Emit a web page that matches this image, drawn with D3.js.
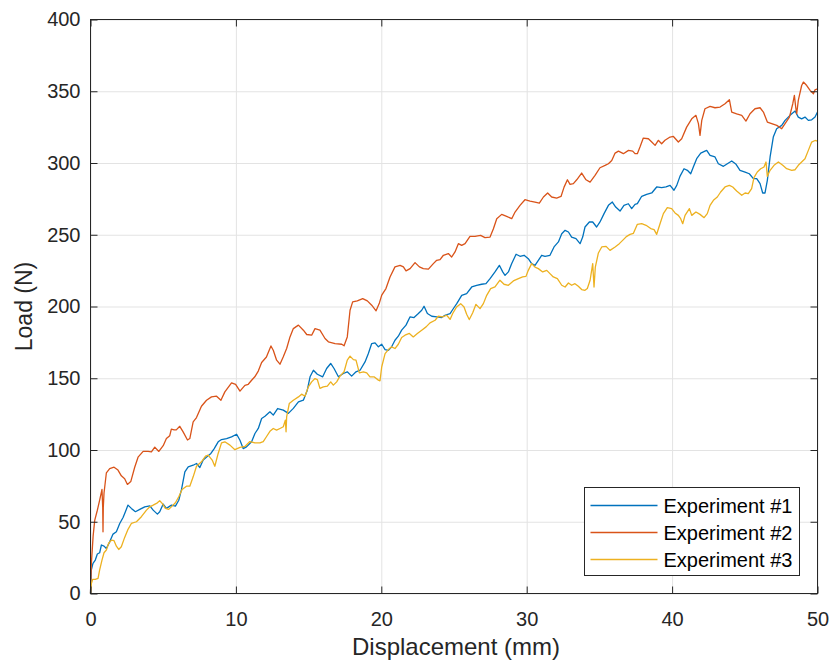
<!DOCTYPE html>
<html>
<head>
<meta charset="utf-8">
<script src="https://cdn.jsdelivr.net/npm/d3@7"></script>
<style>
  body { margin: 0; background: #fff; }
  svg { display: block; font-family: "Liberation Sans", Arial, Helvetica, sans-serif; }
</style>
</head>
<body>
<svg id="chart" width="832" height="663"></svg>
<script>
// Load vs displacement, three experiments [displacement mm, load N]
const exp1 = [[0,0],[0.02,7],[0.06,16.4],[0.17,21],[0.33,23.3],[0.47,27.5],[0.63,28.4],[0.75,33.8],[0.93,33],[1.09,31.4],[1.32,36],[1.55,41.4],[1.78,43],[2.01,48.8],[2.24,53],[2.4,57],[2.58,61.6],[2.81,59.3],[3.09,57],[3.39,58.6],[3.73,60.4],[4.08,61.1],[4.31,58.1],[4.6,55.3],[4.76,57],[5.0,62.3],[5.22,59.3],[5.57,61.6],[5.84,60.9],[6.07,65],[6.26,72.5],[6.49,84.8],[6.72,88.3],[7.06,89.4],[7.29,90.6],[7.52,87.8],[7.75,93],[8.05,95.7],[8.28,97.6],[8.51,101],[8.78,105.7],[9.01,107.3],[9.36,108],[9.7,109.2],[10.05,111],[10.28,106.8],[10.5,101],[10.73,102.2],[11.08,105.7],[11.31,111.5],[11.54,115],[11.77,122],[12.0,123.5],[12.34,126.6],[12.57,124.3],[12.87,128.9],[13.26,127.8],[13.61,125.5],[13.95,129],[14.3,133.6],[14.64,134.7],[14.91,141.7],[15.1,151],[15.33,155.6],[15.6,152.8],[15.97,151],[16.24,156.8],[16.52,160.3],[16.75,156.8],[17.05,151],[17.39,153.3],[17.66,154.5],[17.96,151.5],[18.26,154.5],[18.54,155.6],[18.88,161.4],[19.11,167.2],[19.34,174.2],[19.57,174.7],[19.8,171.9],[20.03,173.7],[20.26,170],[20.49,169.5],[20.71,171.9],[20.94,176.5],[21.17,179.3],[21.4,183.5],[21.7,187],[21.98,192.8],[22.25,192.3],[22.55,195.1],[22.78,197.4],[22.94,200.2],[23.17,195.1],[23.47,193.2],[23.81,192.8],[24.15,192.3],[24.38,193.9],[24.73,195.1],[24.96,198.6],[25.19,202],[25.53,207.8],[25.87,209],[26.22,213.6],[26.56,214.8],[26.9,215.5],[27.2,215.9],[27.48,219.4],[27.82,224.1],[28.12,228.7],[28.35,224.1],[28.51,221.7],[28.74,224.1],[28.97,229.9],[29.27,236.4],[29.54,235],[29.82,235.7],[30.11,233.3],[30.34,229.9],[30.57,228.7],[30.8,232.2],[31.03,235.7],[31.26,235],[31.6,235.7],[31.88,241.5],[32.18,245],[32.41,250.7],[32.64,253.1],[32.87,251.9],[33.09,248.4],[33.39,247.3],[33.67,243.8],[33.85,248.4],[34.01,255.4],[34.31,258.9],[34.54,258.9],[34.81,255.4],[35.04,258.9],[35.32,264.7],[35.62,270.5],[35.89,272.8],[36.12,269.3],[36.42,266.5],[36.69,270.5],[36.99,271.6],[37.22,268.2],[37.45,271.2],[37.61,271.7],[37.91,276.8],[38.25,278.2],[38.6,279.1],[38.94,283.3],[39.28,282.8],[39.58,283.3],[39.86,284.4],[40.13,281],[40.32,284.4],[40.54,290.7],[40.82,296],[41.05,294.9],[41.28,292.5],[41.46,297.2],[41.69,303],[41.97,306.9],[42.26,308.3],[42.38,308.8],[42.61,305.3],[42.95,304.2],[43.18,299.5],[43.53,297.7],[43.8,299.5],[44.1,301.4],[44.4,299.1],[44.67,294.9],[45.02,293.7],[45.31,292.5],[45.59,289.1],[45.82,289.1],[46.05,285.6],[46.23,279.1],[46.39,279.1],[46.55,287.9],[46.74,304.2],[46.96,318.1],[47.19,323.9],[47.54,326.2],[47.77,329.7],[48.11,333.2],[48.46,336.2],[48.68,332],[48.91,330.8],[49.14,332],[49.37,329.7],[49.6,330.1],[49.83,332],[50,335.5]];

const exp2 = [[0,0],[0.06,21],[0.18,40],[0.29,51],[0.47,58],[0.63,65],[0.79,72.5],[0.84,60],[0.86,43],[0.88,60],[0.93,70],[1.09,84],[1.32,87],[1.62,88],[1.89,86],[2.12,82],[2.35,80],[2.54,76],[2.77,78],[3.04,88],[3.27,95],[3.62,99],[3.96,99],[4.19,98.7],[4.42,102],[4.7,99],[5.0,103],[5.22,108],[5.45,110],[5.56,114.5],[5.75,114],[5.9,114],[6.14,116.5],[6.37,112.6],[6.67,107],[6.83,108],[7.06,119.6],[7.29,122.6],[7.63,130.5],[7.98,134.7],[8.32,137],[8.67,137.5],[8.97,134.7],[9.24,140.5],[9.7,146.8],[9.98,145.7],[10.28,141],[10.62,145],[10.85,145.8],[11.08,148.6],[11.3,151],[11.54,155],[11.77,161],[12.1,164.8],[12.41,172.5],[12.57,169.5],[12.8,162.6],[13.03,159.8],[13.26,165],[13.49,170.7],[13.72,178.8],[13.95,184.6],[14.3,187],[14.64,183.5],[14.87,180.5],[15.21,180],[15.44,184.6],[15.78,183.5],[16.13,177.7],[16.36,175.4],[16.82,174.2],[17.28,173.7],[17.44,172.6],[17.66,178.8],[17.85,197.4],[18.03,203.2],[18.35,203.9],[18.72,205.5],[19.04,203.9],[19.34,200.9],[19.64,197],[19.87,202.5],[20.03,207.9],[20.32,212.5],[20.6,220.6],[20.94,227.6],[21.29,228.7],[21.52,227.6],[21.7,224.8],[21.98,226.4],[22.32,230.6],[22.62,227.6],[22.89,226.4],[23.24,226],[23.58,229.9],[23.81,232.2],[24.04,232.7],[24.27,235.7],[24.61,236.9],[24.84,234.5],[25.07,238],[25.3,243.8],[25.53,242.6],[25.76,243.8],[26.1,248.9],[26.44,248.9],[26.83,249.6],[27.13,248],[27.48,248.4],[27.71,254.2],[27.94,261.2],[28.28,264.2],[28.62,262.8],[28.97,261.2],[29.2,265.8],[29.54,270.5],[29.88,274.4],[30.23,273.5],[30.57,272.8],[30.87,272.1],[31.15,276.3],[31.44,279.1],[31.72,276.3],[32.06,275.6],[32.36,276.7],[32.57,283.2],[32.8,288.3],[32.98,285.1],[33.21,285.6],[33.44,288.3],[33.78,293],[34.08,288.3],[34.36,286.7],[34.7,291.4],[35.04,296.7],[35.39,298.3],[35.62,299.5],[35.85,301.8],[36.08,306.9],[36.31,308.3],[36.65,306.5],[37.0,308.8],[37.29,308.3],[37.45,306.5],[37.61,306.5],[37.79,311.1],[38.02,317.4],[38.37,316.9],[38.6,314.6],[38.83,312.3],[39.05,315.8],[39.28,313.4],[39.51,315.8],[39.86,318.1],[40.09,318.5],[40.43,314.6],[40.66,316.9],[41.0,325],[41.35,330.8],[41.64,333.2],[41.81,327.4],[41.92,319.2],[42.04,329.7],[42.26,337.8],[42.61,339.4],[42.95,338.5],[43.3,339],[43.64,341.3],[43.94,344.1],[44.1,335.5],[44.44,334.3],[44.79,333.2],[45.08,329.2],[45.36,334.3],[45.7,337.8],[46.05,338.5],[46.28,335.5],[46.55,328.5],[46.85,327.4],[47.2,326.2],[47.54,323.9],[47.77,327.4],[48.07,332],[48.3,341.3],[48.41,347.1],[48.5,339],[48.57,334.3],[48.68,343.6],[48.91,354],[49.03,356.4],[49.26,354],[49.49,350.6],[49.72,348.3],[49.83,351],[50,351.7]];

const exp3 = [[0,0],[0.06,7],[0.15,9.9],[0.33,9.9],[0.52,10.6],[0.63,16.4],[0.79,23.3],[0.93,28.4],[1.09,30.3],[1.25,35],[1.44,37.2],[1.62,36.8],[1.78,33],[1.94,30.7],[2.12,32.6],[2.35,39.1],[2.58,44.7],[2.81,48.8],[3.16,50],[3.5,53.5],[3.85,58.1],[4.08,60.4],[4.31,61.6],[4.6,63.2],[4.76,64.6],[4.93,62.8],[5.15,59.3],[5.38,58.6],[5.61,60.9],[5.84,63.2],[6.07,67.4],[6.3,72.5],[6.6,74.8],[6.83,74.8],[7.06,81.3],[7.29,88.7],[7.63,91.8],[7.91,95.7],[8.09,96.4],[8.37,93],[8.55,88.7],[8.78,97.6],[9.01,105],[9.24,105.7],[9.59,103.4],[9.93,100.2],[10.28,101.8],[10.62,102.5],[10.96,105.9],[11.31,104.9],[11.65,104.9],[11.88,105.9],[12.11,109.4],[12.34,113],[12.57,115],[12.8,113.8],[13.03,115],[13.26,116.2],[13.4,120.8],[13.45,112.7],[13.49,123.1],[13.67,132.4],[13.95,134.7],[14.3,137],[14.52,138.9],[14.75,137.5],[14.98,144],[15.21,147.5],[15.44,149.8],[15.6,149.1],[15.78,142.9],[16.01,144],[16.29,144.5],[16.52,147.5],[16.7,145.2],[16.93,147.5],[17.16,151.5],[17.44,154.5],[17.66,162.6],[17.85,165.4],[18.08,163],[18.26,162.6],[18.49,153.8],[18.77,154.5],[19.0,153.8],[19.22,151],[19.5,151],[19.8,148.7],[19.91,148.2],[20.03,158],[20.26,167.2],[20.49,170],[20.71,171.9],[20.94,170.7],[21.17,173.7],[21.4,178.4],[21.63,180],[21.93,181.2],[22.2,178.8],[22.48,181.2],[22.78,183.5],[23.08,185.8],[23.35,188.6],[23.7,190.4],[23.92,193.2],[24.22,192.8],[24.5,193.9],[24.73,191],[24.91,195.1],[25.18,199.7],[25.46,202],[25.69,199.7],[25.87,194.6],[26.05,190.9],[26.28,195.5],[26.51,201.5],[26.79,198.5],[27.02,202],[27.25,207.8],[27.52,212.5],[27.82,213.6],[28.16,218.3],[28.44,215.5],[28.74,214.8],[29.08,217.8],[29.43,219.4],[29.72,220.6],[29.95,221],[30.11,225.2],[30.34,229.9],[30.57,227.5],[30.8,226.4],[31.1,224.1],[31.38,225.2],[31.6,222.9],[31.83,220.6],[32.11,219.4],[32.41,214.8],[32.64,213.6],[32.87,216.4],[33.09,214.8],[33.32,215.9],[33.55,214.1],[33.78,211.8],[34.01,211.3],[34.17,212.5],[34.36,218.3],[34.54,229.9],[34.63,213.6],[34.72,227.5],[34.93,237.3],[35.16,241.5],[35.46,241.9],[35.73,239.1],[36.08,241.5],[36.37,243.8],[36.65,246.6],[36.88,248.9],[37.11,250.3],[37.34,251],[37.61,257.3],[37.91,257.7],[38.21,256.6],[38.53,254.3],[38.76,253.6],[38.94,250.3],[39.17,257.7],[39.4,264.7],[39.67,268.9],[39.97,268.2],[40.2,265.2],[40.43,263.5],[40.59,261.2],[40.73,257.7],[40.89,263.5],[41.19,268.2],[41.35,263.5],[41.64,265.9],[41.92,264.2],[42.2,261.9],[42.42,264.7],[42.61,270.5],[42.84,274],[43.11,276.3],[43.34,279.8],[43.64,283.3],[43.94,284.4],[44.17,283.3],[44.44,280.5],[44.79,277.5],[45.02,279.1],[45.24,278.6],[45.47,282.1],[45.63,289.8],[45.86,293.7],[46.09,296],[46.32,297.2],[46.46,300.7],[46.55,290.7],[46.74,294.9],[47.01,298.4],[47.31,300.7],[47.61,298.4],[47.88,296],[48.23,294.9],[48.46,295.3],[48.68,298.4],[48.91,300.7],[49.14,303],[49.37,308.8],[49.6,314.6],[49.83,315.7],[50,315.3]];

const seriesNames = ["Experiment #1", "Experiment #2", "Experiment #3"];
const xTicks = [0, 10, 20, 30, 40, 50];
const yTicks = [0, 50, 100, 150, 200, 250, 300, 350, 400];

const chart = d3.select("#chart");
const colors = ["#0072BD", "#D95319", "#EDB120"];
const axisColor = "#262626";

const plotLeft = 90.5, plotRight = 817.5, plotTop = 19.5, plotBottom = 593.5;

let x = d3.scaleLinear().domain([0, 50]).range([plotLeft, plotRight]);
let y = d3.scaleLinear().domain([0, 400]).range([plotBottom, plotTop]);

// grid
chart.append("g")
    .attr("transform", "translate(0," + plotBottom + ")")
    .call(d3.axisBottom(x).tickValues(xTicks).tickSize(-(plotBottom - plotTop)).tickFormat(""))
    .call(g => g.select(".domain").remove())
    .call(g => g.selectAll("line").attr("stroke", "#e3e3e3"));
chart.append("g")
    .attr("transform", "translate(" + plotLeft + ",0)")
    .call(d3.axisLeft(y).tickValues(yTicks).tickSize(-(plotRight - plotLeft)).tickFormat(""))
    .call(g => g.select(".domain").remove())
    .call(g => g.selectAll("line").attr("stroke", "#e3e3e3"));

// data lines
let line = d3.line().x(d => x(d[0])).y(d => y(d[1]));
[exp1, exp2, exp3].forEach(function (s, i) {
    chart.append("path")
        .datum(s)
        .attr("fill", "none")
        .attr("stroke", colors[i])
        .attr("stroke-width", 1.3)
        .attr("stroke-linejoin", "round")
        .attr("d", line);
});

// axes (ticks inside)
function styleAxis(g) {
    g.select(".domain").remove();
    g.selectAll("line").attr("stroke", axisColor);
    g.selectAll("text").attr("fill", axisColor).style("font-size", "20px")
        .attr("font-family", null);
}
chart.append("g")
    .attr("transform", "translate(0," + plotBottom + ")")
    .call(d3.axisBottom(x).tickValues(xTicks).tickSize(-7).tickPadding(18))
    .call(styleAxis);
chart.append("g")
    .attr("transform", "translate(0," + plotTop + ")")
    .call(d3.axisTop(x).tickValues(xTicks).tickSize(-7).tickFormat(""))
    .call(styleAxis);
chart.append("g")
    .attr("transform", "translate(" + plotLeft + ",0)")
    .call(d3.axisLeft(y).tickValues(yTicks).tickSize(-7).tickPadding(10))
    .call(styleAxis);
chart.append("g")
    .attr("transform", "translate(" + plotRight + ",0)")
    .call(d3.axisRight(y).tickValues(yTicks).tickSize(-7).tickFormat(""))
    .call(styleAxis);

// box
chart.append("rect")
    .attr("x", plotLeft).attr("y", plotTop)
    .attr("width", plotRight - plotLeft).attr("height", plotBottom - plotTop)
    .attr("fill", "none")
    .attr("stroke", axisColor)
    .attr("stroke-width", 1);

// axis labels
chart.append("text")
    .text("Displacement (mm)")
    .attr("x", (plotLeft + plotRight) / 2 + 2)
    .attr("y", 655)
    .attr("text-anchor", "middle")
    .attr("fill", axisColor)
    .style("font-size", "24px");
chart.append("text")
    .text("Load (N)")
    .attr("transform", "translate(32," + ((plotTop + plotBottom) / 2) + ") rotate(-90)")
    .attr("text-anchor", "middle")
    .attr("fill", axisColor)
    .style("font-size", "23px");

// legend
let legend = chart.append("g").attr("transform", "translate(584.5,487.5)");
legend.append("rect")
    .attr("width", 215).attr("height", 88)
    .attr("fill", "#fff")
    .attr("stroke", axisColor)
    .attr("stroke-width", 1);
seriesNames.forEach(function (name, i) {
    let cy = 18 + i * 27;
    legend.append("line")
        .attr("x1", 6).attr("x2", 73)
        .attr("y1", cy).attr("y2", cy)
        .attr("stroke", colors[i])
        .attr("stroke-width", 1.3);
    legend.append("text")
        .text(name)
        .attr("x", 79)
        .attr("y", cy)
        .attr("dy", "0.35em")
        .attr("fill", "#000")
        .style("font-size", "20px");
});
</script>
</body>
</html>
